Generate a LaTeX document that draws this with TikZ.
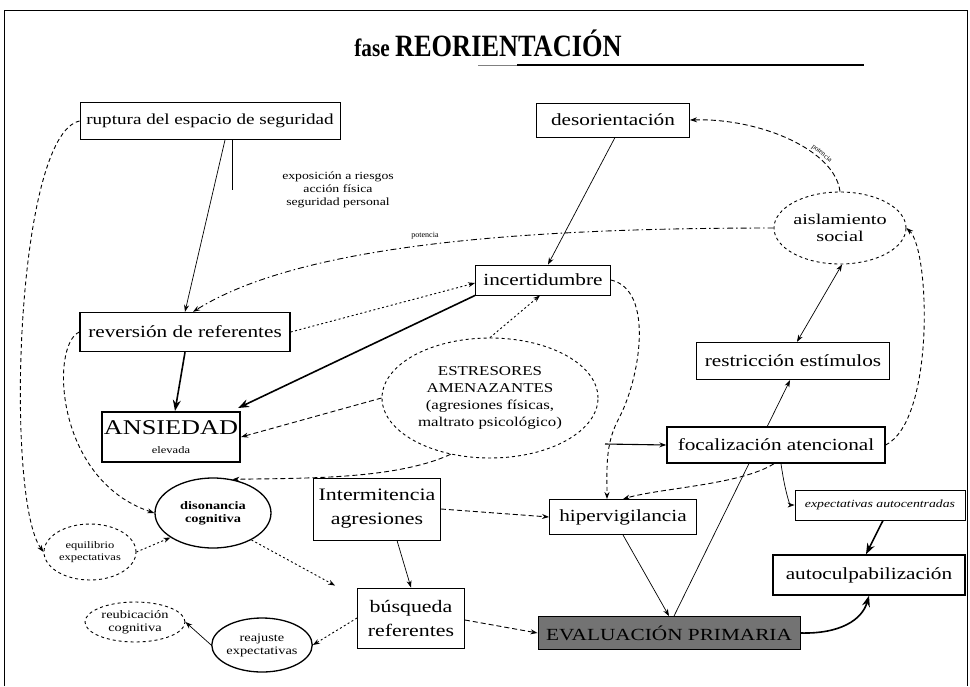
\documentclass[tikz,border=0pt]{standalone}
\usepackage{fontspec}
\setmainfont{Liberation Serif}
\newfontfamily\wfont[FakeStretch=1.25]{Liberation Serif}
\newfontfamily\xwfont[FakeStretch=1.35]{Liberation Serif}
\newfontfamily\tfont[FakeStretch=0.85]{Liberation Serif}
\usetikzlibrary{arrows.meta,shapes.geometric,calc}
\pgfdeclarelayer{bg}
\pgfsetlayers{bg,main}
\tikzset{
  box/.style={draw, line width=0.9pt, fill=white, align=center, inner sep=2pt, font=\wfont\fontsize{17}{20}\selectfont},
  tbox/.style={box, line width=1.4pt},
  dell/.style={draw, ellipse, dashed, line width=0.9pt, fill=white, align=center, inner sep=0pt},
  sell/.style={draw, ellipse, line width=1.3pt, fill=white, align=center, inner sep=0pt},
  thinarr/.style={-{Stealth[length=7pt,width=5pt]}, line width=0.7pt},
  thickarr/.style={-{Stealth[length=11pt,width=8pt]}, line width=1.6pt},
  dasharr/.style={-{Stealth[length=7pt,width=5pt]}, line width=0.9pt, dash pattern=on 5pt off 3pt},
  dotarr/.style={-{Stealth[length=7pt,width=5pt]}, line width=0.9pt, dash pattern=on 2pt off 2.5pt},
  small/.style={font=\wfont\fontsize{11}{13}\selectfont, align=center},
}
\begin{document}
\begin{tikzpicture}[x=1pt,y=-1pt]
\useasboundingbox (0,0) rectangle (970,686);
\draw[line width=1pt] (4,686) -- (4,10) -- (967,10) -- (967,686);

% title
\node[anchor=base, inner sep=0pt] (title) at (488,56) {\tfont\bfseries\fontsize{25}{28}\selectfont fase \fontsize{31}{34}\selectfont REORIENTACIÓN};
\coordinate (tl0) at (478,65);
\coordinate (tl1) at (517,65);
\coordinate (tl2) at (864,65);
\draw[line width=0.8pt, black!50] (tl0) -- (tl1);
\draw[line width=1.6pt] (tl1) -- (tl2);

% nodes
\node[box, minimum width=260, minimum height=37, font=\wfont\fontsize{15.3}{18}\selectfont] (rup) at (210,121) {ruptura del espacio de seguridad};
\node[small] (expo) at (338,190) {exposición a riesgos\\acción física\\seguridad personal};
\node[box, minimum width=153, minimum height=34] (deso) at (613,120) {desorientación};
\node[dell, minimum width=118, minimum height=72, font=\xwfont\fontsize{15}{17}\selectfont] (aisl) at (840,228) {aislamiento\\social};
\node[box, minimum width=135, minimum height=30] (inc) at (543,280) {incertidumbre};
\node[tbox, minimum width=210, minimum height=39] (rev) at (185,332) {reversión de referentes};
\node[dell, minimum width=216, minimum height=120, font=\wfont\fontsize{13.5}{17}\selectfont] (estr) at (490,398) {ESTRESORES\\AMENAZANTES\\(agresiones físicas,\\maltrato psicológico)};
\node[tbox, minimum width=193, minimum height=37] (restr) at (793,361) {restricción estímulos};
\node[box, line width=2pt, minimum width=127, minimum height=50] (ans) at (171,437) {\fontsize{21}{21}\selectfont ANSIEDAD\\[-1pt]\fontsize{10}{11}\selectfont elevada};
\node[tbox, minimum width=218, minimum height=36] (foc) at (776,445) {focalización atencional};
\node[sell, minimum width=116, minimum height=70, font=\wfont\bfseries\fontsize{11.5}{13}\selectfont] (dis) at (213,513) {disonancia\\cognitiva};
\node[box, minimum width=127, minimum height=62, font=\wfont\fontsize{17.5}{24}\selectfont] (inter) at (377,509) {Intermitencia\\agresiones};
\node[box, minimum width=147, minimum height=35] (hiper) at (623,517) {hipervigilancia};
\node[box, minimum width=170, minimum height=30, font=\wfont\itshape\fontsize{11}{13}\selectfont] (expe) at (880,505) {expectativas autocentradas};
\node[tbox, minimum width=192, minimum height=40] (auto) at (869,575) {autoculpabilización};
\node[box, minimum width=107, minimum height=60, font=\wfont\fontsize{17.5}{24}\selectfont] (busq) at (411,618) {búsqueda\\referentes};
\node[sell, minimum width=96, minimum height=54, font=\wfont\fontsize{11.5}{13}\selectfont] (reaj) at (262,645) {reajuste\\expectativas};
\node[dell, minimum width=100, minimum height=40, font=\wfont\fontsize{11.5}{13}\selectfont] (reub) at (135,622) {reubicación\\cognitiva};
\node[dell, minimum width=92, minimum height=56, font=\wfont\fontsize{10}{12}\selectfont] (equi) at (90,552) {equilibrio\\expectativas};
\node[box, fill=black!55, minimum width=262, minimum height=33] (eval) at (669,633) {EVALUACIÓN PRIMARIA};

% connectors
\begin{pgfonlayer}{bg}
\draw[thinarr] ($(eval.north)+(5,0)$) -- ($(restr.south)+(-3,0)$);
\end{pgfonlayer}
\draw[thinarr] ($(rup.south)+(15,0)$) -- (rev.north);
\coordinate (v1) at (232,190);
\draw[line width=0.8pt] ($(rup.south)+(22,0)$) -- (v1);
\draw[thinarr] ($(deso.south)+(2,0)$) -- ($(inc.north)+(5,0)$);
\draw[dasharr] (aisl.north) .. controls (835,150) and (760,118) .. (deso.east)
  node[pos=0.3, sloped, above, inner sep=1.5pt, font=\fontsize{7}{8}\selectfont] (pot1) {potencia};
\draw[dasharr, dash pattern=on 6pt off 3pt on 1.5pt off 3pt] (aisl.west) .. controls (520,228) and (300,245) .. ($(rev.north)+(8,0)$);
\node[font=\fontsize{8}{9}\selectfont] (pot2) at (425,236) {potencia};
\draw[dotarr] (rev.east) -- ($(inc.west)+(0,3)$);
\draw[thickarr] (inc.south west) -- ($(ans.north east)+(-3,-3)$);
\draw[thickarr] (rev.south) -- ($(ans.north)+(4,0)$);
\draw[dotarr] (estr.north) -- ($(inc.south)+(-3,0)$);
\draw[dasharr] (estr.west) -- (ans.east);
\coordinate (fstart) at (605,444);
\draw[thinarr, line width=1.1pt] (fstart) -- (foc.west);
\draw[dasharr] (estr.235) .. controls (395,480) and (300,478) .. (dis.60);
\draw[dasharr, dash pattern=on 4pt off 3pt] (inc.east) .. controls (655,290) and (640,380) .. (618,420) .. controls (605,445) and (607,470) .. ($(hiper.north)+(-16,0)$);
\draw[{Stealth[length=7pt,width=5pt]}-{Stealth[length=7pt,width=5pt]}, line width=0.7pt] ($(aisl.south)+(2,0)$) -- ($(restr.north)+(4,0)$);
\draw[dasharr, dash pattern=on 4pt off 3pt] (foc.east) .. controls (935,420) and (930,250) .. (aisl.east);
\draw[dasharr] ($(foc.south)+(-2,0)$) .. controls (740,485) and (660,488) .. (hiper.north);
\draw[thinarr] ($(foc.south)+(5,0)$) .. controls (785,492) and (790,505) .. (expe.west);
\draw[thinarr] (hiper.south) -- (eval.north);
\draw[thickarr] ($(expe.south)+(3,0)$) -- ($(auto.north)+(-3,0)$);
\draw[thickarr] (eval.east) .. controls (840,634) and (862,620) .. (auto.south);
\draw[dasharr] (inter.east) -- (hiper.west);
\draw[thinarr] ($(inter.south)+(20,0)$) -- (busq.north);
\draw[dasharr] ($(busq.east)+(0,2)$) -- (eval.west);
\draw[dotarr] (busq.west) -- (reaj.east);
\draw[thinarr] (reaj.west) -- (reub.east);
\draw[dotarr] (dis.-35) -- ($(busq.north west)+(-22,-2)$);
\draw[dotarr] (equi.east) -- (dis.210);
\draw[dasharr, dash pattern=on 4pt off 3pt] (rup.west) .. controls (15,135) and (5,500) .. (equi.west);
\draw[dasharr, dash pattern=on 4pt off 3pt] (rev.west) .. controls (50,345) and (55,480) .. (dis.west);
\end{tikzpicture}
\end{document}
